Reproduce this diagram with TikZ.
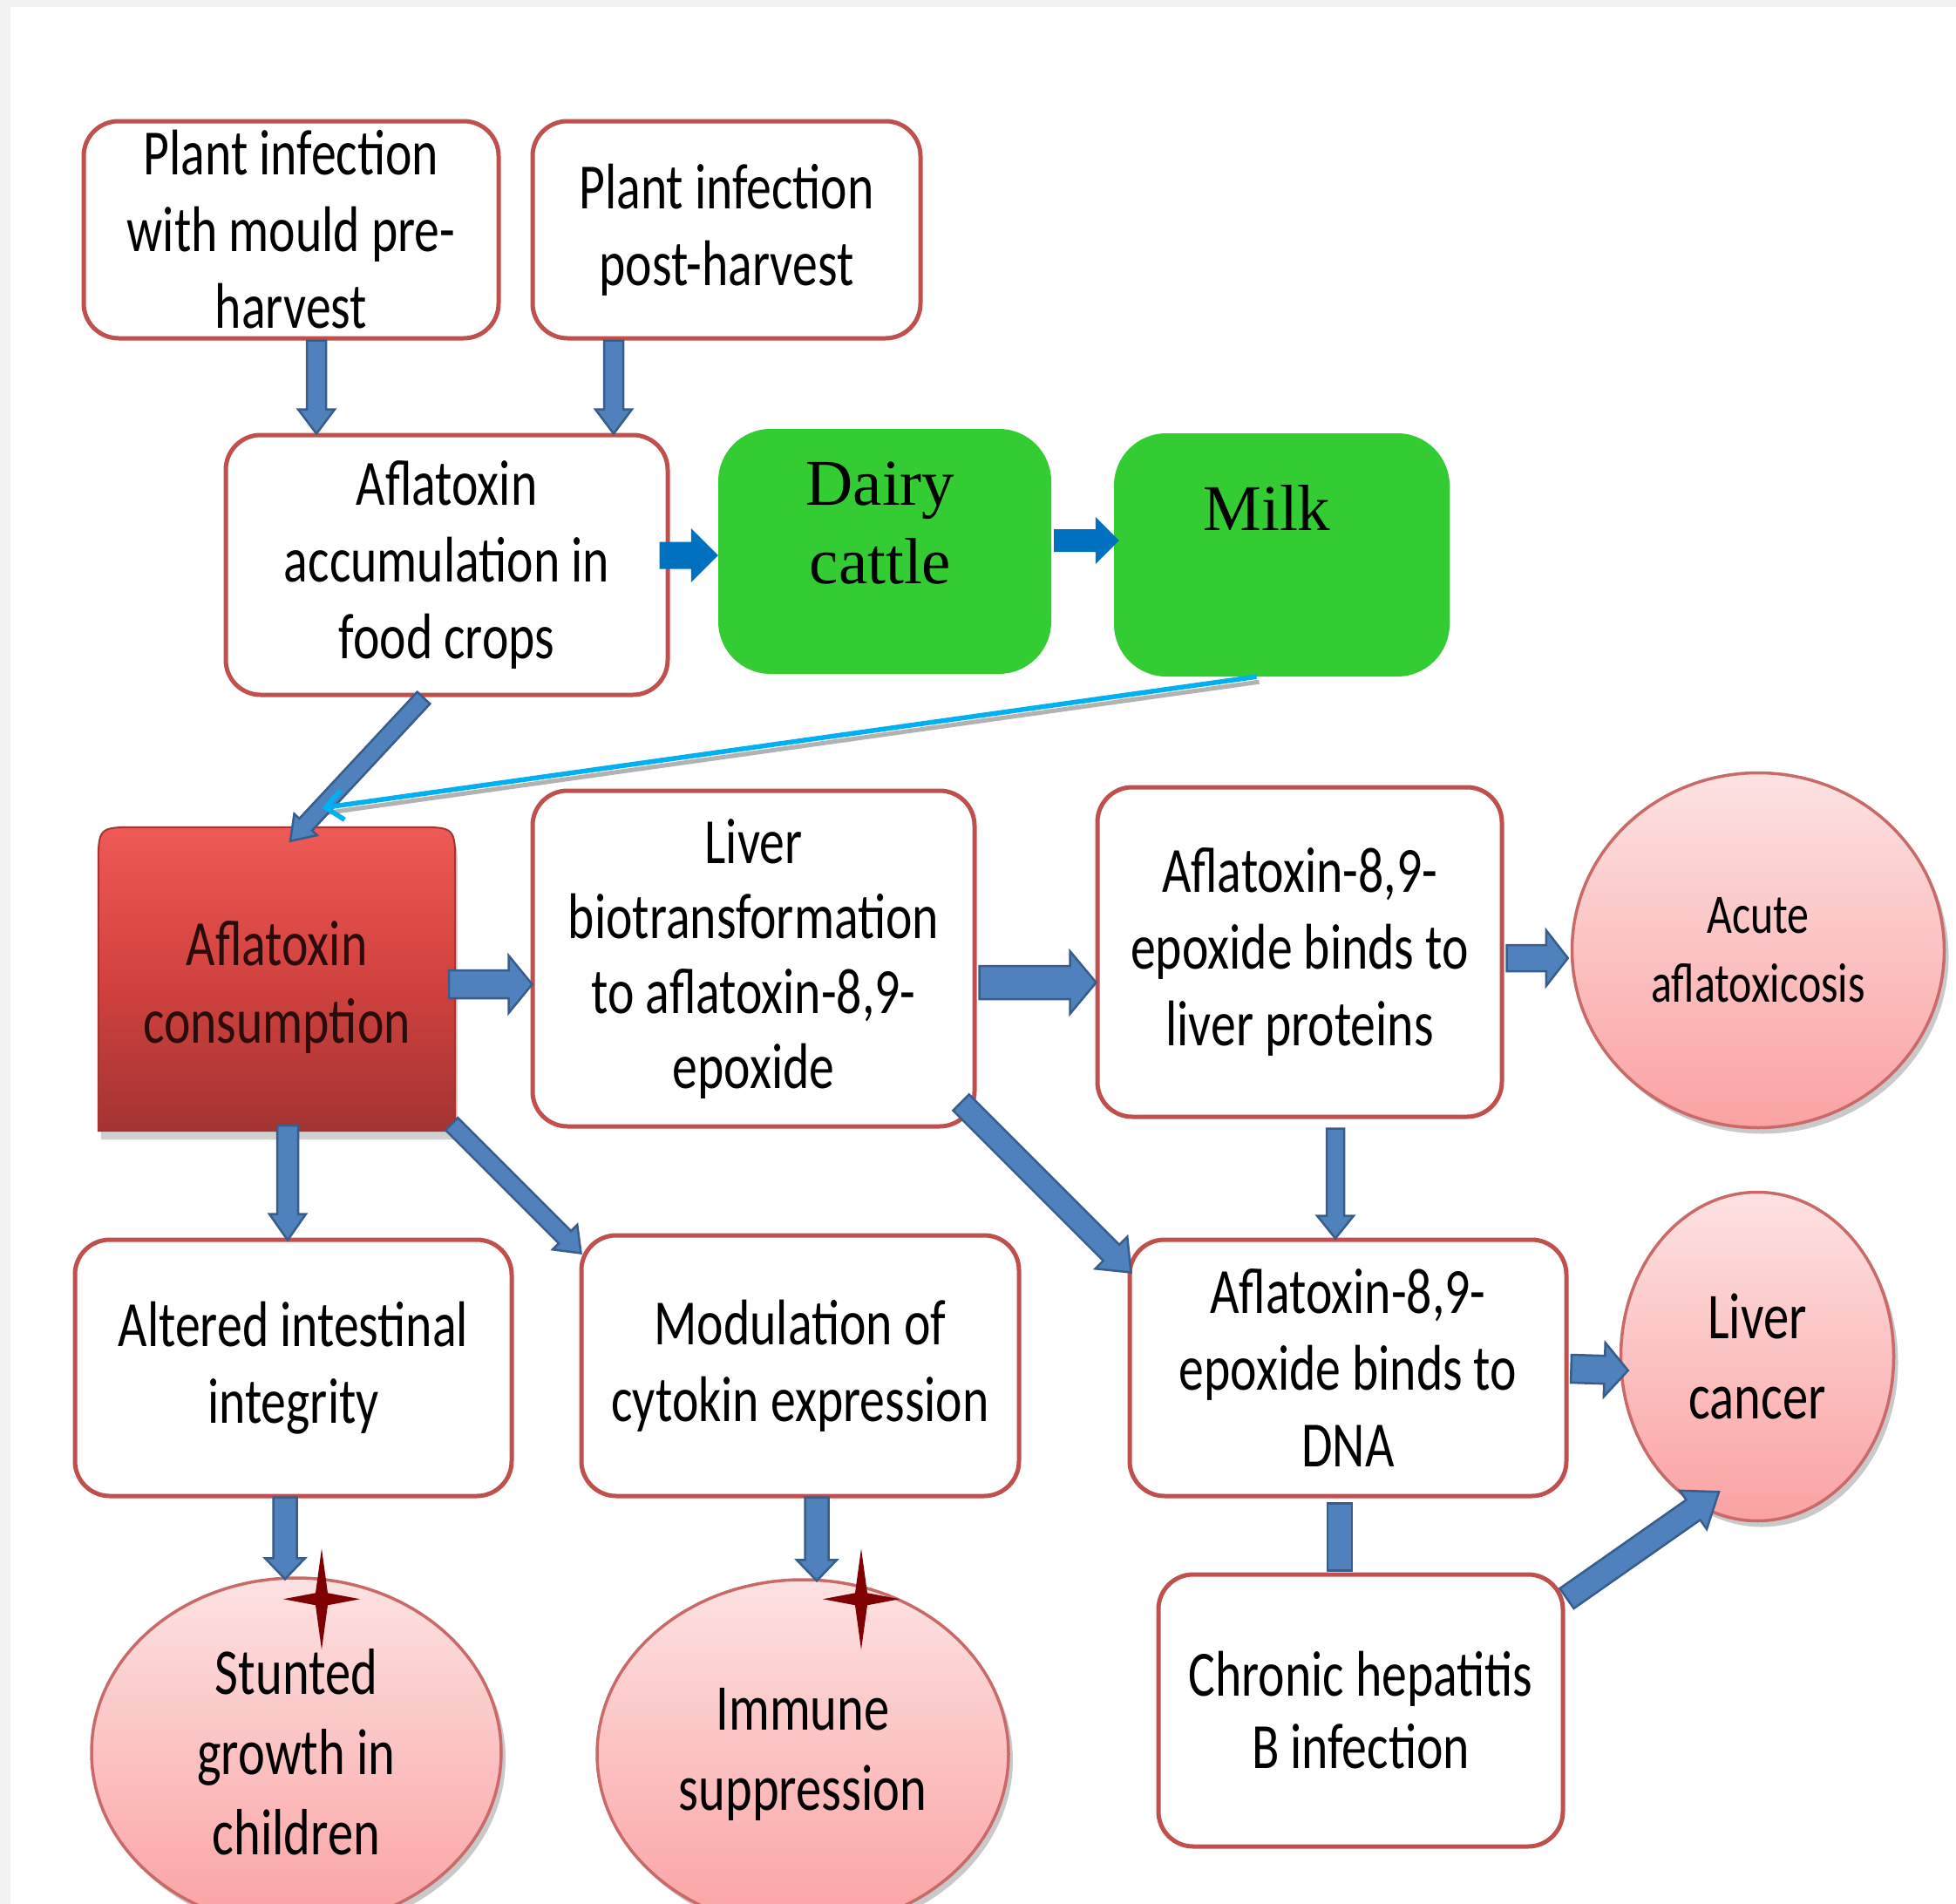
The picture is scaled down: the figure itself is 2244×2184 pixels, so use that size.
\documentclass[tikz,border=0pt]{standalone}
\usepackage{fontspec}
\setmainfont{Carlito}[FakeStretch=0.78]
\newfontfamily\timesfont{Liberation Serif}
\usetikzlibrary{calc,shadows,arrows.meta,shapes.geometric}
\definecolor{bordred}{HTML}{C0504D}
\definecolor{bggray}{HTML}{F2F2F2}
\definecolor{greenbox}{HTML}{33CC33}
\definecolor{arrfill}{HTML}{4F81BD}
\definecolor{arrline}{HTML}{385D8A}
\definecolor{solidblue}{HTML}{0070C0}
\definecolor{cyanline}{HTML}{00B0F0}
\definecolor{starred}{HTML}{7F0000}
\definecolor{elltop}{HTML}{FDE2E2}
\definecolor{ellbot}{HTML}{FBA2A2}
\definecolor{redtop}{HTML}{EE5A55}
\definecolor{redmid}{HTML}{D2423E}
\definecolor{redbot}{HTML}{A33432}
\definecolor{constext}{HTML}{2A0C0C}
\tikzset{
  infobox/.style={draw=bordred, line width=5pt, rounded corners=40pt, fill=white,
    align=center, inner sep=0pt, font=\fontsize{74}{88}\selectfont},
  greenblock/.style={fill=greenbox, rounded corners=60pt, inner sep=0pt},
  greentext/.style={font=\timesfont\fontsize{75}{90}\selectfont, align=center, inner sep=0pt},
  outcome/.style={ellipse, draw=bordred!85, line width=3.5pt, top color=elltop, bottom color=ellbot,
    align=center, inner sep=0pt, font=\fontsize{75}{92}\selectfont,
    drop shadow={shadow xshift=5pt, shadow yshift=-7pt, opacity=0.35, fill=black!60}},
  redshape/.style={top color=redtop, bottom color=redbot, middle color=redmid,
    draw=redbot, line width=2pt,
    drop shadow={shadow xshift=3pt, shadow yshift=-10pt, opacity=0.3, fill=black!60}},
  blockarrow/.style={fill=arrfill, draw=arrline, line width=2.5pt, line join=miter},
  solidarrow/.style={fill=solidblue, draw=none},
}
\newcommand\blockarr[6][blockarrow]{%
  \coordinate (bas) at (#2);
  \coordinate (bae) at (#3);
  \coordinate (bah) at ($(bae)!#6pt!(bas)$);
  \filldraw[#1] ($(bas)!#4pt!90:(bae)$) -- ($(bah)!#4pt!-90:(bas)$) -- ($(bah)!#5pt!-90:(bas)$)
    -- (bae) -- ($(bah)!#5pt!90:(bas)$) -- ($(bah)!#4pt!90:(bas)$) -- ($(bas)!#4pt!-90:(bae)$) -- cycle;}
\newcommand\fourstar[1]{%
  \fill[starred] ($(#1)+(0,-58)$) -- ($(#1)+(7,-7)$) -- ($(#1)+(44,0)$) -- ($(#1)+(7,7)$)
    -- ($(#1)+(0,58)$) -- ($(#1)+(-7,7)$) -- ($(#1)+(-44,0)$) -- ($(#1)+(-7,-7)$) -- cycle;}
\begin{document}
\begin{tikzpicture}[x=1pt, y=-1pt]
\useasboundingbox (0,0) rectangle (2244,2184);
\fill[white] (0,0) rectangle (2244,2184);
\fill[bggray] (0,0) rectangle (2244,8);
\fill[bggray] (0,0) rectangle (12,2184);

% white boxes
\node[infobox, minimum width=476pt, minimum height=249pt] (pre) at (334,263.5)
  {Plant infection\\with mould pre-\\harvest};
\node[infobox, minimum width=445pt, minimum height=249pt] (post) at (833.5,263.5)
  {Plant infection\\post-harvest};
\node[infobox, minimum width=507pt, minimum height=298pt] (acc) at (512.5,648)
  {Aflatoxin\\accumulation in\\food crops};
\node[infobox, minimum width=507pt, minimum height=385pt, font=\fontsize{74}{86}\selectfont] (liver) at (864.5,1099.5)
  {Liver\\biotransformation\\to aflatoxin-8,9-\\epoxide};
\node[infobox, minimum width=464pt, minimum height=378pt] (prot) at (1491,1092)
  {Aflatoxin-8,9-\\epoxide binds to\\liver proteins};
\node[infobox, minimum width=501pt, minimum height=294pt] (alt) at (336.5,1569)
  {Altered intestinal\\integrity};
\node[infobox, minimum width=502pt, minimum height=299pt] (mod) at (918,1566.5)
  {Modulation of\\cytokin expression};
\node[infobox, minimum width=501pt, minimum height=294pt] (dna) at (1546.5,1569)
  {Aflatoxin-8,9-\\epoxide binds to\\DNA};
\node[infobox, minimum width=464pt, minimum height=312pt, font=\fontsize{74}{83}\selectfont] (hep) at (1561,1962)
  {Chronic hepatitis\\B infection};

% green boxes
\node[greenblock, minimum width=382pt, minimum height=281pt] (dairy) at (1015,632.5) {};
\node[greentext] (dairyt) at ($(dairy.center)+(-5,-32.5)$) {Dairy\\cattle};
\node[greenblock, minimum width=385pt, minimum height=279pt] (milk) at (1470.5,636.5) {};
\node[greentext] (milkt) at ($(milk.center)+(-17,-54)$) {Milk};

% red consumption box
\path node[minimum width=409pt, minimum height=348pt, inner sep=0pt] (cons) at (317.5,1123) {};
\path[redshape] (cons.south west) -- ($(cons.north west)+(0,45)$) .. controls (cons.north west) .. ($(cons.north west)+(45,0)$)
  -- ($(cons.north east)+(-45,0)$) .. controls (cons.north east) .. ($(cons.north east)+(0,45)$)
  -- (cons.south east) -- cycle;
\node[align=center, inner sep=0pt, text=constext, font=\fontsize{74}{89}\selectfont] (const) at ($(cons.center)+(0,9)$)
  {Aflatoxin\\consumption};

% outcome ellipses
\node[outcome, minimum width=427pt, minimum height=407pt, font=\fontsize{64}{79}\selectfont] (acute) at (2017,1090)
  {Acute\\aflatoxicosis};
\node[outcome, minimum width=313pt, minimum height=377pt] (cancer) at (2016,1556)
  {Liver\\cancer};
\node[outcome, minimum width=470pt, minimum height=400pt] (stunt) at (340,2010)
  {Stunted\\growth in\\children};
\node[outcome, minimum width=472pt, minimum height=400pt] (immune) at (921,2012)
  {Immune\\suppression};

% connectors
\blockarr{$(pre.south)+(29,0)$}{$(acc.north)+(-149.5,1)$}{11}{21}{28}
\blockarr{$(post.south)+(-129.5,0)$}{$(acc.north)+(191.5,1)$}{11}{21}{28}
\blockarr[solidarrow]{$(acc.east)+(-12,-11)$}{$(dairy.west)+(0,4.5)$}{15.5}{31}{31}
\blockarr[solidarrow]{$(dairy.east)+(3,-12.5)$}{$(milk.west)+(6,-16.5)$}{13}{27}{27}
\coordinate (milkfoot) at ($(milk.south)+(-29,0)$);
\coordinate (consin) at ($(cons.north)+(51.5,-22)$);
\draw[black, opacity=0.3, line width=5pt] ($(milkfoot)+(3,6)$) -- ($(consin)+(3,6)$);
\blockarr{$(acc.south)+(-26.5,1)$}{$(cons.north)+(15.5,16)$}{10}{18}{26}
\draw[cyanline, line width=5.5pt, -{Straight Barb[length=20pt, width=34pt]}] (milkfoot) -- (consin);
\blockarr{$(cons.east)+(-7,6)$}{$(liver.west)+(2,29.5)$}{16}{33}{27}
\blockarr{$(liver.east)+(3,27.5)$}{$(prot.west)+(1,35)$}{19}{36}{30}
\blockarr{$(prot.east)+(3,7)$}{$(acute.west)+(-3,9)$}{15}{32}{25}
\blockarr{$(prot.south)+(41,11)$}{$(dna.north)+(-14.5,1)$}{10}{21}{26}
\blockarr{$(liver.south east)+(-18,-30)$}{$(dna.north west)+(4,40)$}{13}{26}{32}
\blockarr{$(cons.south)+(12.5,-6)$}{$(alt.north)+(-6.5,3)$}{12}{21}{30}
\blockarr{$(cons.south east)+(-4,-8)$}{$(mod.north west)+(2,23)$}{10}{20}{26}
\blockarr{$(alt.south)+(-9.5,-1)$}{$(stunt.north)+(-13,3)$}{13.5}{23}{24}
\blockarr{$(mod.south)+(19,-1)$}{$(immune.north)+(16,3)$}{13.5}{23}{24}
\blockarr{$(dna.east)+(3,1)$}{$(cancer.west)+(10,16)$}{16}{31}{27}
\filldraw[blockarrow] ($(dna.south)+(-23.5,6)$) rectangle ($(hep.north)+(-10,-2)$);
\blockarr{$(hep.north east)+(2,30)$}{$(cancer.south)+(-44,-35)$}{14}{27}{36}

% stars
\coordinate (star1) at ($(stunt.north)+(29,26)$);
\coordinate (star2) at ($(immune.north)+(67,24)$);
\fourstar{star1}
\fourstar{star2}
\end{tikzpicture}
\end{document}
